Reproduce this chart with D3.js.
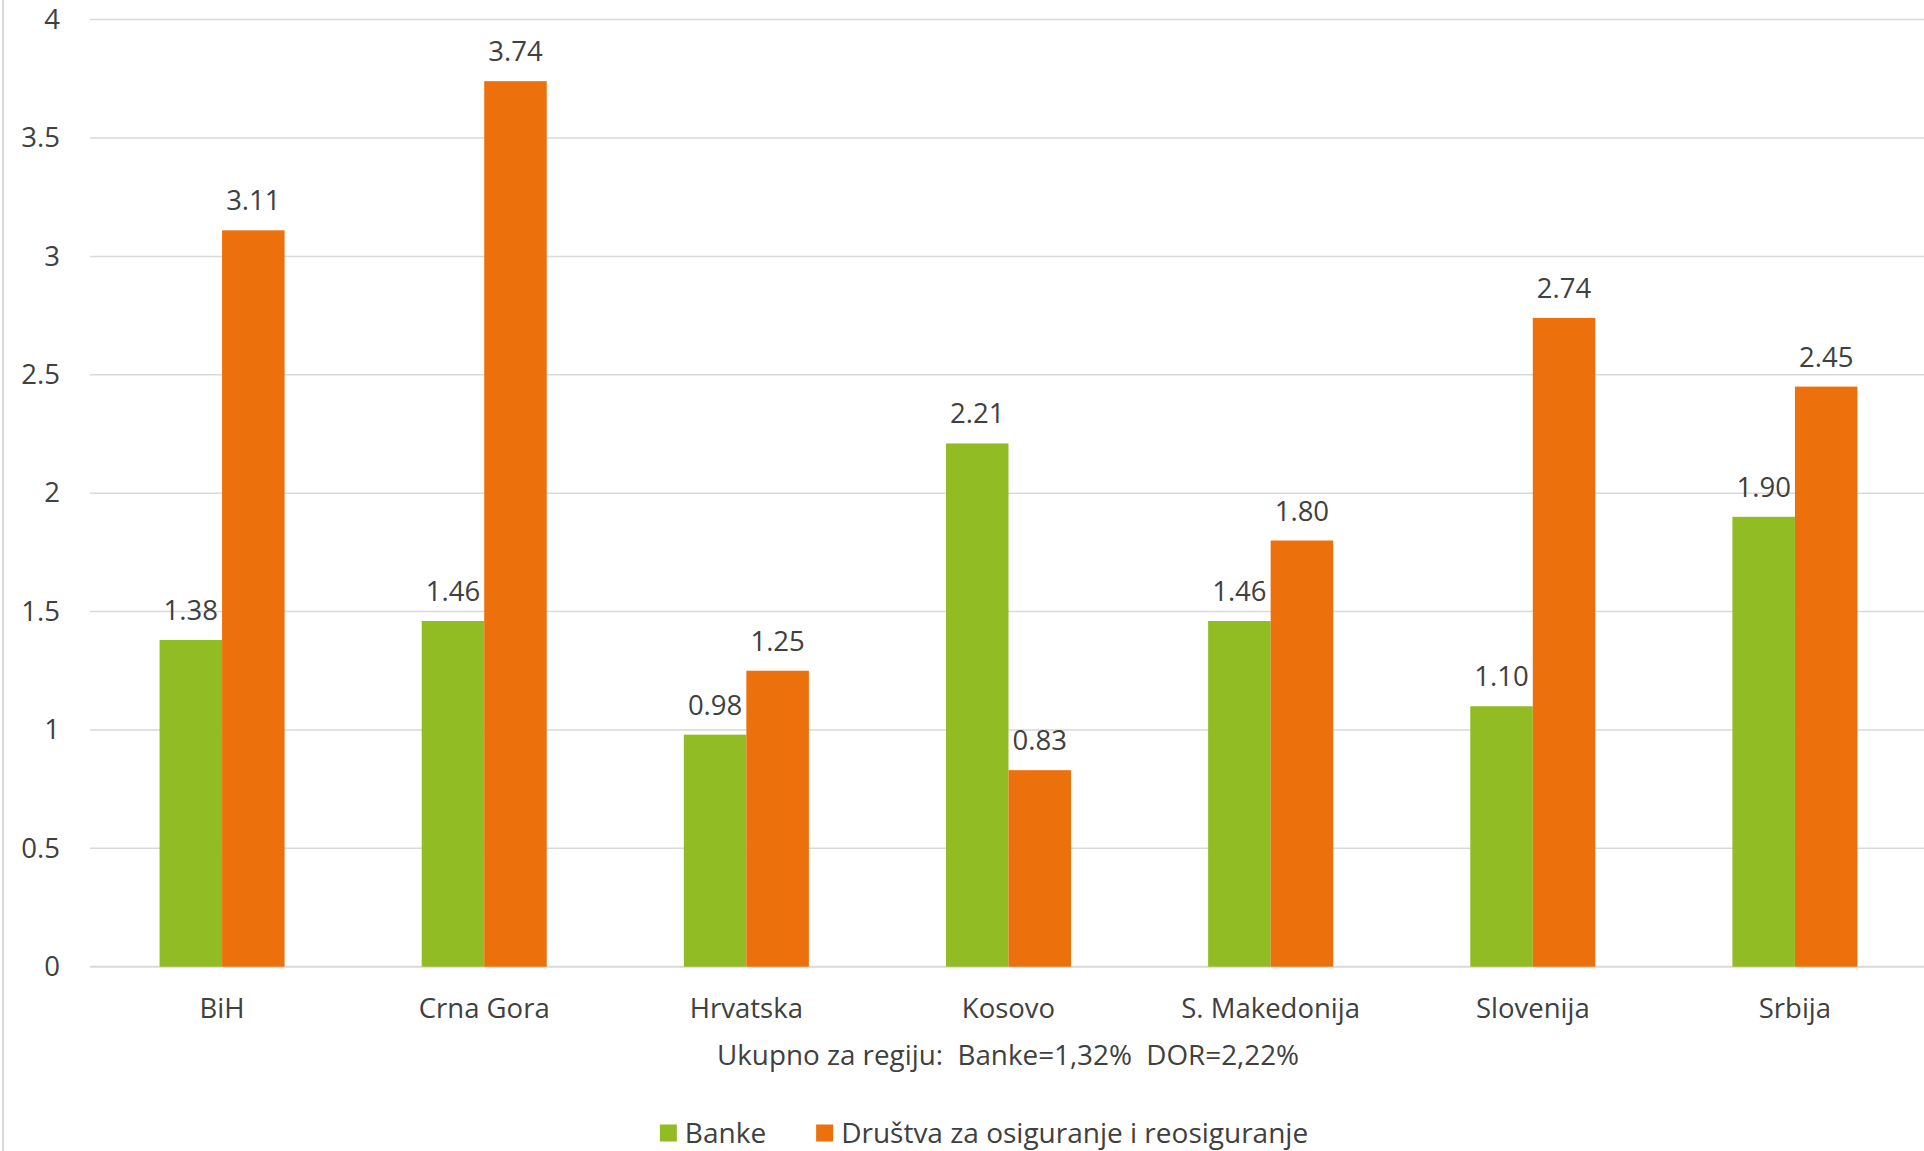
<!DOCTYPE html>
<html>
<head>
<meta charset="utf-8">
<script src="https://cdn.jsdelivr.net/npm/d3@7"></script>
<style>
  html, body { margin: 0; padding: 0; background: #ffffff; }
  svg { display: block; font-family: "Open Sans", sans-serif; }
</style>
</head>
<body>
<svg id="chart" width="1924" height="1151"></svg>
<script>
const categories = ["BiH", "Crna Gora", "Hrvatska", "Kosovo", "S. Makedonija", "Slovenija", "Srbija"];
const seriesNames = ["Banke", "Društva za osiguranje i reosiguranje"];
const banke = [1.38, 1.46, 0.98, 2.21, 1.46, 1.10, 1.90];
const dor = [3.11, 3.74, 1.25, 0.83, 1.80, 2.74, 2.45];
const yTicks = [0, 0.5, 1, 1.5, 2, 2.5, 3, 3.5, 4];
const subtitle = "Ukupno za regiju:  Banke=1,32%  DOR=2,22%";
const colors = ["#92bc24", "#ec700c"];

const seriesValues = [banke, dor];
const W = 1924, H = 1151;
const plotLeft = 90, plotRight = 1924, plotTop = 19.6, plotBottom = 966.7;
const textColor = "#404040";
const fontSize = 27.5;

const svg = d3.select("#chart");

// faint outer border on the left
svg.append("line")
  .attr("x1", 3).attr("x2", 3).attr("y1", 0).attr("y2", H)
  .attr("stroke", "#d9d9d9").attr("stroke-width", 2);

const x0 = d3.scaleBand().domain(categories).range([plotLeft + 1, plotRight + 2])
  .paddingInner(0.523).paddingOuter(0.2615);
const x1 = d3.scaleBand().domain(d3.range(seriesNames.length)).range([0, x0.bandwidth()]);
const y = d3.scaleLinear().domain([0, 4]).range([plotBottom, plotTop]);

// gridlines
svg.append("g").selectAll("line").data(yTicks).join("line")
  .attr("x1", plotLeft).attr("x2", plotRight)
  .attr("y1", d => y(d)).attr("y2", d => y(d))
  .attr("stroke", "#d9d9d9").attr("stroke-width", d => d === 0 ? 2 : 1.5);

// y axis labels
const yAxis = d3.axisLeft(y).tickValues(yTicks).tickSize(0).tickPadding(0).tickFormat(d3.format(""));
const yg = svg.append("g").attr("transform", `translate(60,0)`).call(yAxis);
yg.select(".domain").remove();
yg.selectAll("text").attr("fill", textColor).style("font-size", fontSize + "px")
  .style("font-family", "'Open Sans', sans-serif");

// bars
const groups = svg.append("g").selectAll("g").data(categories).join("g")
  .attr("transform", d => `translate(${x0(d)},0)`);

groups.selectAll("rect").data((d, i) => seriesValues.map((s, k) => ({k, v: s[i]}))).join("rect")
  .attr("x", d => x1(d.k))
  .attr("width", x1.bandwidth())
  .attr("y", d => y(d.v))
  .attr("height", d => y(0) - y(d.v))
  .attr("fill", d => colors[d.k]);

groups.selectAll("text").data((d, i) => seriesValues.map((s, k) => ({k, v: s[i]}))).join("text")
  .attr("x", d => x1(d.k) + x1.bandwidth() / 2)
  .attr("y", d => y(d.v) - 20)
  .attr("text-anchor", "middle")
  .attr("fill", textColor)
  .style("font-size", fontSize + "px")
  .text(d => d.v.toFixed(2));

// x axis labels
const xAxis = d3.axisBottom(x0).tickSize(0).tickPadding(0);
const xg = svg.append("g").attr("transform", `translate(0,${plotBottom})`).call(xAxis);
xg.select(".domain").remove();
xg.selectAll("text").attr("fill", textColor).attr("dy", null).attr("y", 51)
  .style("font-size", fontSize + "px").style("font-family", "'Open Sans', sans-serif");

// subtitle
svg.append("text")
  .attr("x", 1008).attr("y", 1065)
  .attr("text-anchor", "middle")
  .attr("fill", textColor)
  .style("font-size", "27.8px")
  .style("white-space", "pre")
  .attr("xml:space", "preserve")
  .text(subtitle);

// legend
const legend = svg.append("g");
const sq = 17, gap = 8, itemGap = 50;
let cx = 0;
seriesNames.forEach((name, k) => {
  const g = legend.append("g").attr("transform", `translate(${cx},0)`);
  g.append("rect").attr("x", 0).attr("y", -sq / 2).attr("width", sq).attr("height", sq).attr("fill", colors[k]);
  const t = g.append("text").attr("x", sq + gap).attr("y", 0).attr("dy", "0.35em")
    .attr("fill", textColor).style("font-size", "28px").text(name);
  cx += sq + gap + t.node().getComputedTextLength() + itemGap;
});
const legendWidth = cx - itemGap;
legend.attr("transform", `translate(${984 - legendWidth / 2},1133)`);
</script>
</body>
</html>
